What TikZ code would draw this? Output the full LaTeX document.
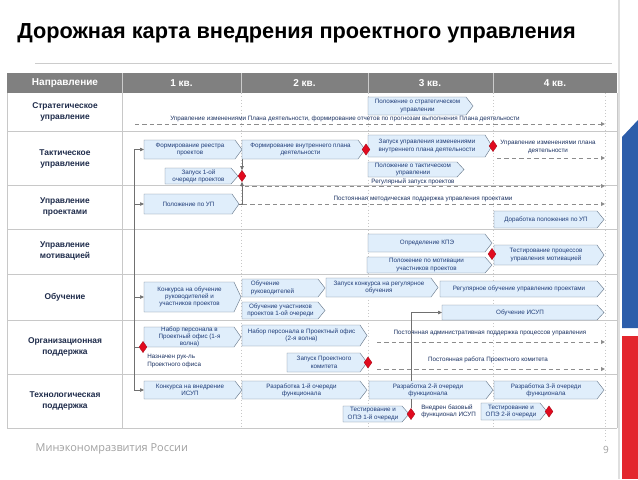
\documentclass[tikz,border=0pt]{standalone}
\usepackage{fontspec}
\setmainfont{Liberation Sans}
\newfontfamily\footfont{Open Sans}
\usetikzlibrary{arrows.meta, positioning, calc, shapes.geometric}
\definecolor{headgray}{HTML}{808080}
\definecolor{gridgray}{HTML}{C8C8C8}
\definecolor{boxfill}{HTML}{E0EEFB}
\definecolor{boxline}{HTML}{6E7E90}
\definecolor{boxink}{HTML}{1F3C78}
\definecolor{rowink}{HTML}{1E2B4A}
\definecolor{linkgray}{HTML}{707070}
\definecolor{milered}{HTML}{E10A1E}
\definecolor{flagblue}{HTML}{2C5DAA}
\definecolor{flagred}{HTML}{E3262D}
\tikzset{
  stageshape/.style={inner sep=0pt, outer sep=0pt},
  stageline/.style={draw=boxline, fill=boxfill, line width=0.35pt},
  stagetext/.style={text=boxink, font=\fontsize{4.7}{5.5}\selectfont, align=center, inner sep=0pt},
  rowlabel/.style={text=rowink, font=\bfseries\fontsize{6.3}{8.2}\selectfont, align=center},
  headlabel/.style={text=white, font=\bfseries\fontsize{7.5}{9}\selectfont},
  milestone/.style={diamond, fill=milered, draw=milered!70!black, line width=0.2pt,
    inner sep=0pt, minimum width=6pt, minimum height=8.5pt},
  link/.style={draw=linkgray, line width=0.55pt},
  linkarr/.style={link, -{Triangle[length=3pt, width=2.6pt]}},
  flow/.style={draw=gray!90, line width=0.75pt, dash pattern=on 3.2pt off 2.4pt,
    -{Triangle[length=3pt, width=2.8pt]}},
  flowtext/.style={text=boxink!80!black, font=\fontsize{4.7}{5.5}\selectfont, align=center, inner sep=0pt},
}
% stage arrow box: options, name, x1, y1, x2, y2, text
\newcommand{\stagebox}[7][]{%
  \node[stageshape, minimum width={(#5-#3)*0.75pt}, minimum height={(#6-#4)*0.75pt}]
    (#2) at ({(#3+#5)/2},{(#4+#6)/2}) {};
  \path[stageline] (#2.north west) -- ($(#2.north east)+(-7,0)$) -- (#2.east)
    -- ($(#2.south east)+(-7,0)$) -- (#2.south west) -- cycle;
  \node[stagetext, #1] (#2-t) at ($(#2.center)+(-3,0)$) {#7};}

\begin{document}
\begin{tikzpicture}[x=0.75pt, y=-0.75pt]
\useasboundingbox (0,0) rectangle (638,479);

% slide decoration
\draw[gray!25, line width=1pt] (619,0) -- (619,479);
\fill[flagblue] (622,137) -- (638,120) -- (638,328) -- (622,328) -- cycle;
\fill[flagred] (622,336) -- (638,336) -- (638,479) -- (622,479) -- cycle;

% title
\node[anchor=west, inner sep=0pt, font=\bfseries\fontsize{16.3}{19}\selectfont] (title) at (17,33)
  {Дорожная карта внедрения проектного управления};
\draw[gray!40, line width=0.6pt] (35,63) -- (612,63);

% header
\fill[headgray] (7,73) rectangle (617,93);
\foreach \x in {122,241.5,368,493}
  \draw[white!60!headgray, line width=0.4pt] (\x,73) -- (\x,93);
\node[headlabel] (h0) at (65,83) {Направление};
\node[headlabel] (h1) at (181.5,83) {1 кв.};
\node[headlabel] (h2) at (304.5,83) {2 кв.};
\node[headlabel] (h3) at (430,83) {3 кв.};
\node[headlabel] (h4) at (555,83) {4 кв.};

% grid
\foreach \y in {131,185,229,274,320,374,428}
  \draw[gridgray, line width=0.5pt] (7,\y) -- (617,\y);
\draw[gridgray, line width=0.5pt] (7,93) -- (7,428) (617,93) -- (617,428) (122,93) -- (122,428);
\foreach \x in {241.5,368,493}
  \draw[gridgray, dotted, line width=0.5pt] (\x,93) -- (\x,428);
\draw[gridgray, dotted, line width=0.5pt] (605,93) -- (605,442);

% rows
\node[rowlabel] (r1) at (65,112) {Стратегическое\\управление};
\node[rowlabel] (r2) at (65,159) {Тактическое\\управление};
\node[rowlabel] (r3) at (65,207) {Управление\\проектами};
\node[rowlabel] (r4) at (65,251) {Управление\\мотивацией};
\node[rowlabel] (r5) at (65,297) {Обучение};
\node[rowlabel] (r6) at (65,347) {Организационная\\поддержка};
\node[rowlabel] (r7) at (65,401) {Технологическая\\поддержка};

% dashed flows
\coordinate (f1s) at (135,124); \coordinate (f1e) at (605,124);
\draw[flow] (f1s) -- (f1e);
\node[flowtext] (f1t) at (345,119) {Управление изменениями Плана деятельности, формирование отчетов по прогнозам выполнения Плана деятельности};
\coordinate (f2s) at (497,158); \coordinate (f2e) at (605,158);
\draw[flow] (f2s) -- (f2e);
\node[flowtext] (f2t) at (548,147) {Управление изменениями плана\\деятельности};
\coordinate (f3s) at (245,186); \coordinate (f3e) at (605,186);
\draw[flow] (f3s) -- (f3e);
\node[flowtext] (f3t) at (413,182) {Регулярный запуск проектов};
\coordinate (f4s) at (243,204); \coordinate (f4e) at (605,204);
\draw[flow] (f4s) -- (f4e);
\node[flowtext] (f4t) at (423,199) {Постоянная методическая поддержка управления проектами};
\coordinate (f5s) at (377,342); \coordinate (f5e) at (605,342);
\draw[flow] (f5s) -- (f5e);
\node[flowtext] (f5t) at (490,333) {Постоянная административная поддержка процессов управления};
\coordinate (f6s) at (377,369); \coordinate (f6e) at (605,369);
\draw[flow] (f6s) -- (f6e);
\node[flowtext] (f6t) at (488,360) {Постоянная работа Проектного комитета};

% stages
\stagebox{b1}{368}{97}{473}{115}{Положение о стратегическом\\управлении}
\stagebox{b2}{144}{140}{242}{159}{Формирование реестра\\проектов}
\stagebox{b3}{242}{140}{365}{159}{Формирование внутреннего плана\\деятельности}
\stagebox{b4}{368}{135}{492}{157}{Запуск управления изменениями\\внутреннего плана деятельности}
\stagebox{b5}{368}{162}{464}{177}{Положение о тактическом\\управлении}
\stagebox{b6}{165}{168}{238}{184}{Запуск 1-ой\\очереди проектов}
\stagebox{bup}{144}{194}{239}{214}{Положение по УП}
\stagebox{b7}{494}{211}{604}{228}{Доработка положения по УП}
\stagebox{b8}{368}{234}{492}{252}{Определение КПЭ}
\stagebox{b9}{367}{257}{492}{273}{Положение по мотивации\\участников проектов}
\stagebox{b10}{494}{245}{604}{265}{Тестирование процессов\\управления мотивацией}
\stagebox{b11}{144}{282}{241}{312}{Конкурса на обучение\\руководителей и\\участников проектов}
\stagebox[align=left, xshift=-6pt]{b12}{242}{279}{325}{297}{Обучение\\руководителей}
\stagebox{b13}{242}{302}{325}{319}{Обучение участников\\проектов 1-ой очереди}
\stagebox{b14}{326}{278}{438}{297}{Запуск конкурса на регулярное\\обучения}
\stagebox{b15}{440}{281}{604}{297}{Регулярное обучение управлению проектами}
\stagebox{b16}{442}{305}{604}{320}{Обучение ИСУП}
\stagebox{b17}{144}{327}{241}{347}{Набор персонала в\\Проектный офис (1-я\\волна)}
\stagebox{b18}{242}{325}{367}{346}{Набор персонала в Проектный офис\\(2-я волна)}
\stagebox{b19}{287}{353}{367}{372}{Запуск Проектного\\комитета}
\stagebox{b20}{144}{381}{242}{399}{Конкурса на внедрение\\ИСУП}
\stagebox{b21}{242}{381}{367}{399}{Разработка 1-й очереди\\функционала}
\stagebox{b22}{369}{381}{493}{399}{Разработка 2-й очереди\\функционала}
\stagebox{b23}{494}{381}{604}{399}{Разработка 3-й очереди\\функционала}
\stagebox{b24}{343}{406}{409}{422}{Тестирование и\\ОПЭ 1-й очереди}
\stagebox{b25}{481}{403}{547}{420}{Тестирование и\\ОПЭ 2-й очереди}

% milestones
\node[milestone] (d1) at ($(b6.east)+(4,0)$) {};
\node[milestone] (d2) at ($(b3.east)+(1,0)$) {};
\node[milestone] (d3) at ($(b4.east)+(1,0)$) {};
\node[milestone] (d4) at (492,254) {};
\node[milestone] (d5) at (143,347) {};
\node[milestone] (d6) at ($(b19.east)+(1,0)$) {};
\node[milestone] (d7) at ($(b24.east)+(2,0)$) {};
\node[milestone] (d8) at ($(b25.east)+(2,0)$) {};

% connectors
\draw[link] ($(b2.west)+(-10,0)$) -- ($(b20.west)+(-10,0)$);
\draw[linkarr] ($(b2.west)+(-10,0)$) -- (b2.west);
\draw[linkarr] ($(bup.west)+(-10,0)$) -- (bup.west);
\draw[linkarr] ($(b11.west)+(-10,0)$) -- (b11.west);
\draw[linkarr] ($(b20.west)+(-10,0)$) -- (b20.west);
\draw[link] (d5.west -| b20.west) ++(-10,0) -- (d5.west);
\draw[linkarr] (b2.south east) -- (d1.north);
\draw[linkarr] (bup.east) -| (d1.south);
\draw[link] (d7.north) -- (d7.north |- b22.south);
\draw[linkarr] (d7.north |- b22.north) |- (b16.west);

% notes
\node[flowtext, align=left, anchor=west] (n1) at (147,361) {Назначен рук-ль\\Проектного офиса};
\node[flowtext, align=left, anchor=west] (n2) at (421,411) {Внедрен базовый\\функционал ИСУП};

% footer
\node[anchor=west, text=gray!75, font=\footfont\fontsize{8.2}{10}\selectfont] (foot) at (31,449)
  {Минэкономразвития России};
\node[text=gray!75, font=\footfont\fontsize{7.5}{9}\selectfont] (page) at (606,450) {9};
\end{tikzpicture}
\end{document}
